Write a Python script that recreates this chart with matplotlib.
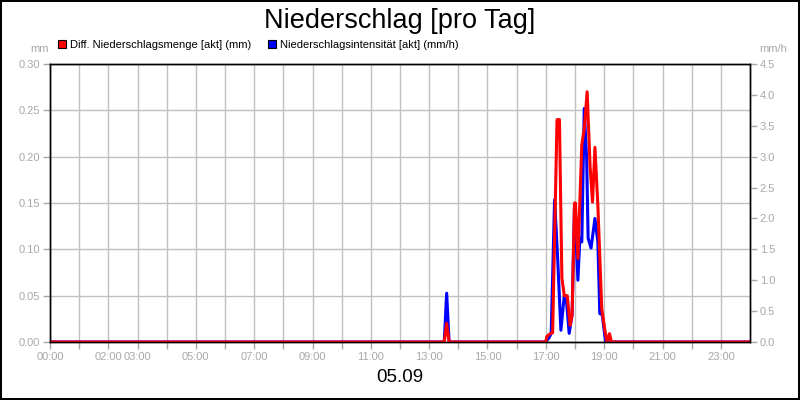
import matplotlib
matplotlib.use("Agg")
import matplotlib.pyplot as plt
from matplotlib.patches import Patch

plt.rcParams["font.family"] = ["Liberation Sans", "DejaVu Sans"]

# Diff. Niederschlagsmenge [akt] (mm)
menge_zeit = ["00:00", "13:31", "13:36", "13:41", "17:00", "17:02", "17:09", "17:14",
              "17:23", "17:28", "17:33", "17:38", "17:44", "17:50", "17:54", "17:59",
              "18:01", "18:06", "18:14", "18:19", "18:25", "18:31", "18:36", "18:41",
              "18:47", "18:55", "19:02", "19:06", "19:11", "19:15", "24:00"]
menge_mm = [0, 0, 0.02, 0, 0, 0.006, 0.009, 0.010,
            0.24, 0.24, 0.069, 0.05, 0.05, 0.018, 0.029, 0.15,
            0.15, 0.09, 0.213, 0.23, 0.27, 0.19, 0.151, 0.21,
            0.148, 0.036, 0.011, 0, 0.009, 0, 0]

# Niederschlagsintensität [akt] (mm/h)
int_zeit = ["00:00", "13:31", "13:36", "13:41", "16:59", "17:06", "17:11", "17:18",
            "17:24", "17:31", "17:38", "17:42", "17:48", "17:54", "17:59", "18:06",
            "18:10", "18:14", "18:19", "18:24", "18:27", "18:33", "18:41", "18:47",
            "18:51", "18:56", "19:03", "24:00"]
int_mmh = [0, 0, 0.79, 0, 0, 0.06, 0.14, 2.3,
           1.41, 0.19, 0.76, 0.71, 0.14, 0.44, 2.22, 1.0,
           1.68, 1.62, 3.78, 2.97, 1.68, 1.52, 2.0, 1.62,
           0.46, 0.44, 0, 0]

label_stunden = [0, 2, 3, 5, 7, 9, 11, 13, 15, 17, 19, 21, 23]
links_ticks = [0.0, 0.05, 0.10, 0.15, 0.20, 0.25, 0.30]
rechts_ticks = [0.0, 0.5, 1.0, 1.5, 2.0, 2.5, 3.0, 3.5, 4.0, 4.5]


def stunden(t):
    h, m = t.split(":")
    return int(h) + int(m) / 60.0


grau = "#a8a8a8"

fig = plt.figure(figsize=(8, 4), dpi=100, facecolor="white",
                 edgecolor="black", linewidth=1.5)
ax = fig.add_axes([0.0625, 0.145, 0.875, 0.695])
ax2 = ax.twinx()

ax.set_xlim(0, 24)
ax.set_ylim(0, 0.30)
ax2.set_ylim(0, 4.5)

# blue first, red on top, both inside ax so the grid stays underneath
ax.plot([stunden(t) for t in int_zeit], int_mmh, color="#0000ff", lw=2.2,
        transform=ax2.transData, zorder=2)
ax.plot([stunden(t) for t in menge_zeit], menge_mm, color="#ff0000", lw=2.2, zorder=3)
ax.set_xlim(0, 24)
ax.set_ylim(0, 0.30)

ax.set_xticks(range(0, 24))
ax.set_xticklabels([f"{h:02d}:00" if h in label_stunden else "" for h in range(0, 24)])
ax.set_yticks(links_ticks)
ax.set_yticklabels([f"{v:.2f}" for v in links_ticks])
ax2.set_yticks(rechts_ticks)
ax2.set_yticklabels([f"{v:.1f}" for v in rechts_ticks])

ax.grid(True, color="#c0c0c0", lw=1)
ax.set_axisbelow(True)
ax.tick_params(axis="both", colors=grau, length=5, width=1, labelsize=8, pad=2)
ax2.tick_params(axis="y", colors=grau, length=5, width=1, labelsize=8, pad=2)
for a in (ax, ax2):
    for s in a.spines.values():
        s.set_color("black")
        s.set_linewidth(1)

fig.text(0.5, 0.929, "Niederschlag [pro Tag]", ha="center", va="baseline", fontsize=19.5)
fig.text(0.05, 0.878, "mm", ha="center", va="center", fontsize=8, color=grau)
fig.text(0.966, 0.878, "mm/h", ha="center", va="center", fontsize=8, color=grau)
fig.text(0.5, 0.055, "05.09", ha="center", va="center", fontsize=13.5)

handles = [Patch(facecolor="#ff0000", edgecolor="black", lw=0.8),
           Patch(facecolor="#0000ff", edgecolor="black", lw=0.8)]
fig.legend(handles, ["Diff. Niederschlagsmenge [akt] (mm)",
                     "Niederschlagsintensität [akt] (mm/h)"],
           loc="center left", bbox_to_anchor=(0.0725, 0.888), ncol=2, frameon=False,
           fontsize=8, handlelength=0.75, handleheight=0.75, handletextpad=0.35,
           columnspacing=1.5, borderpad=0, borderaxespad=0)

fig.savefig("out.png", dpi=100)
